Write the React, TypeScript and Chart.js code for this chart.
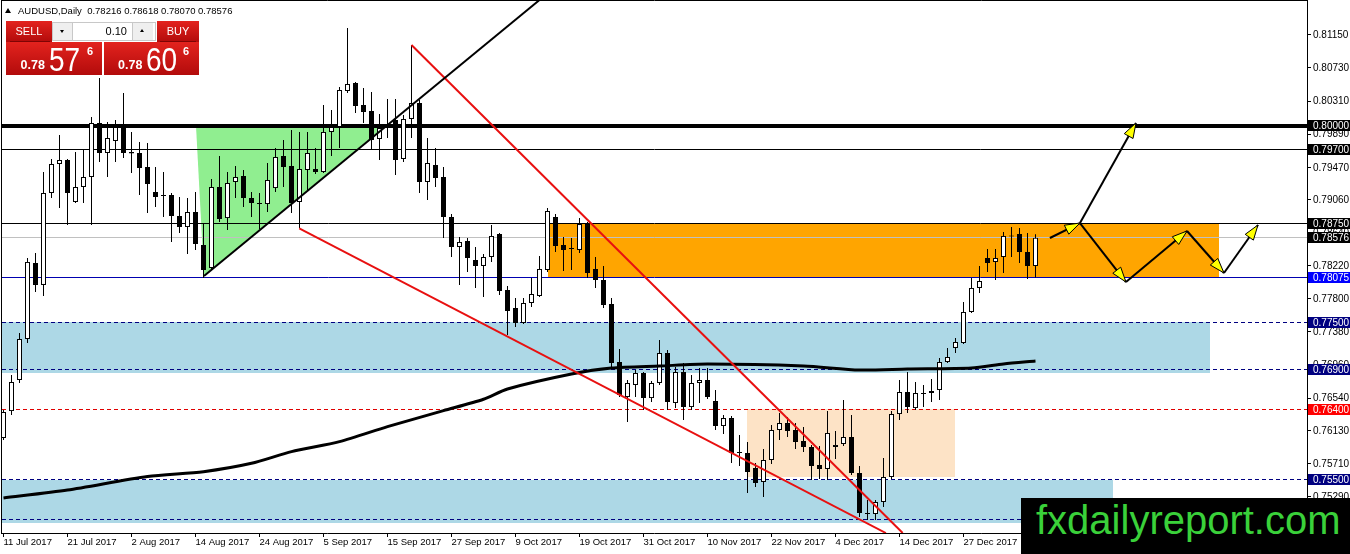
import React, { useEffect, useRef } from 'react';
import { Chart, registerables } from 'chart.js';

Chart.register(...registerables);

const FONT = "'Liberation Sans', Arial, sans-serif";

// axis ranges (bar index / price)
const X_MIN = -0.1875;
const X_MAX = 162.9375;
const Y_MIN = 0.748272;
const Y_MAX = 0.815931;

// time axis
const dateTickIndex = [0, 8, 16, 24, 32, 40, 48, 56, 64, 72, 80, 88, 96, 104, 112, 120, 128];
const dateLabels = ['11 Jul 2017', '21 Jul 2017', '2 Aug 2017', '14 Aug 2017', '24 Aug 2017', '5 Sep 2017', '15 Sep 2017', '27 Sep 2017', '9 Oct 2017', '19 Oct 2017', '31 Oct 2017', '10 Nov 2017', '22 Nov 2017', '4 Dec 2017', '14 Dec 2017', '27 Dec 2017', '8 Jan 2018'];

// price axis tick labels
const priceTicks = [0.8115, 0.8073, 0.8031, 0.7989, 0.7947, 0.7906, 0.7864, 0.7822, 0.778, 0.7738, 0.7696, 0.7654, 0.7613, 0.7571, 0.7529];

// daily candles AUDUSD
const opens = [0.76033, 0.76375, 0.76769, 0.77290, 0.78255, 0.77976, 0.79143, 0.79511, 0.79562, 0.79029, 0.79219, 0.79346, 0.80032, 0.79651, 0.79803, 0.79981, 0.79664, 0.79651, 0.79473, 0.79156, 0.79118, 0.79118, 0.78851, 0.78711, 0.78902, 0.78484, 0.78191, 0.79219, 0.78825, 0.79283, 0.79359, 0.79079, 0.79016, 0.79003, 0.79206, 0.79613, 0.79486, 0.79029, 0.79435, 0.79448, 0.79410, 0.79918, 0.79981, 0.80438, 0.80539, 0.80261, 0.80184, 0.79829, 0.79981, 0.80070, 0.79575, 0.80083, 0.80286, 0.79283, 0.79499, 0.79346, 0.78838, 0.78458, 0.78534, 0.78293, 0.78217, 0.78331, 0.78623, 0.77912, 0.77683, 0.77493, 0.77747, 0.77836, 0.78166, 0.78838, 0.78484, 0.78446, 0.78420, 0.78749, 0.78179, 0.78039, 0.77734, 0.76998, 0.76553, 0.76706, 0.76858, 0.76540, 0.76731, 0.77112, 0.76477, 0.76871, 0.76426, 0.76731, 0.76769, 0.76502, 0.76185, 0.76286, 0.75856, 0.75843, 0.75653, 0.75475, 0.75754, 0.76135, 0.76223, 0.76135, 0.75995, 0.75919, 0.75691, 0.75640, 0.75919, 0.75957, 0.76046, 0.75589, 0.75081, 0.75068, 0.75221, 0.75538, 0.76337, 0.76617, 0.76413, 0.76591, 0.76604, 0.76642, 0.76998, 0.77176, 0.77239, 0.77633, 0.77938, 0.78318, 0.78268, 0.78331, 0.78598, 0.78623, 0.78395, 0.78216];
const highs = [0.76388, 0.76833, 0.77366, 0.78318, 0.78382, 0.79410, 0.79575, 0.79880, 0.79575, 0.79664, 0.79689, 0.80108, 0.80602, 0.80045, 0.80070, 0.80413, 0.79918, 0.79791, 0.79778, 0.79473, 0.79410, 0.79143, 0.79092, 0.79079, 0.79156, 0.78749, 0.79321, 0.79613, 0.79410, 0.79486, 0.79435, 0.79156, 0.79143, 0.79524, 0.79714, 0.79816, 0.79943, 0.79918, 0.79918, 0.79714, 0.80261, 0.80197, 0.80489, 0.81237, 0.80552, 0.80476, 0.80426, 0.80146, 0.80337, 0.80337, 0.80134, 0.81022, 0.80324, 0.79841, 0.79714, 0.79473, 0.78876, 0.78585, 0.78572, 0.78458, 0.78369, 0.78737, 0.78636, 0.77963, 0.77810, 0.77810, 0.78064, 0.78344, 0.78952, 0.78876, 0.78585, 0.78572, 0.78825, 0.78775, 0.78331, 0.78217, 0.77810, 0.77163, 0.76769, 0.76896, 0.76871, 0.76756, 0.77277, 0.77150, 0.76934, 0.76985, 0.76833, 0.76921, 0.76921, 0.76642, 0.76325, 0.76312, 0.76071, 0.75983, 0.75716, 0.75894, 0.76198, 0.76350, 0.76299, 0.76223, 0.76172, 0.75945, 0.75932, 0.76375, 0.76122, 0.76515, 0.76325, 0.75678, 0.75246, 0.75246, 0.75779, 0.76375, 0.76769, 0.76871, 0.76744, 0.76706, 0.76782, 0.77048, 0.77176, 0.77303, 0.77760, 0.78064, 0.78217, 0.78433, 0.78433, 0.78649, 0.78711, 0.78699, 0.78636, 0.78618];
const lows = [0.76008, 0.76325, 0.76731, 0.77239, 0.77887, 0.77836, 0.79079, 0.78952, 0.78737, 0.79016, 0.79016, 0.78737, 0.79537, 0.79346, 0.79537, 0.79587, 0.79397, 0.79118, 0.78889, 0.78965, 0.78838, 0.78522, 0.78636, 0.78369, 0.78420, 0.78064, 0.78166, 0.78775, 0.78674, 0.79079, 0.78965, 0.78838, 0.78687, 0.78902, 0.79156, 0.79219, 0.78889, 0.78699, 0.79181, 0.79384, 0.79397, 0.79613, 0.79714, 0.80413, 0.80159, 0.80032, 0.79689, 0.79562, 0.79841, 0.79372, 0.79537, 0.79841, 0.79143, 0.79054, 0.79219, 0.78572, 0.78331, 0.77976, 0.78141, 0.77938, 0.77823, 0.78268, 0.77849, 0.77341, 0.77442, 0.77480, 0.77696, 0.77823, 0.78141, 0.78395, 0.78153, 0.78166, 0.78382, 0.78064, 0.77938, 0.77683, 0.76921, 0.76553, 0.76236, 0.76553, 0.76388, 0.76490, 0.76706, 0.76388, 0.76413, 0.76261, 0.76388, 0.76477, 0.76528, 0.76135, 0.76084, 0.75716, 0.75678, 0.75335, 0.75411, 0.75284, 0.75703, 0.76008, 0.76046, 0.75894, 0.75856, 0.75500, 0.75513, 0.75500, 0.75767, 0.75932, 0.75564, 0.75030, 0.74992, 0.74992, 0.75157, 0.75513, 0.76261, 0.76350, 0.76388, 0.76426, 0.76490, 0.76515, 0.76985, 0.77112, 0.77226, 0.77620, 0.77874, 0.78141, 0.78039, 0.78128, 0.78331, 0.78255, 0.78051, 0.78070];
const closes = [0.76363, 0.76744, 0.77290, 0.78268, 0.77976, 0.79143, 0.79511, 0.79562, 0.79143, 0.79219, 0.79346, 0.80032, 0.79651, 0.79841, 0.79981, 0.79651, 0.79645, 0.79460, 0.79257, 0.79092, 0.79105, 0.78851, 0.78711, 0.78902, 0.78496, 0.78166, 0.79219, 0.78813, 0.79270, 0.79346, 0.79079, 0.79016, 0.79003, 0.79308, 0.79600, 0.79473, 0.79016, 0.79448, 0.79651, 0.79410, 0.79918, 0.79981, 0.80451, 0.80527, 0.80248, 0.80172, 0.79816, 0.79968, 0.80006, 0.79562, 0.80083, 0.80286, 0.79283, 0.79524, 0.79333, 0.78838, 0.78458, 0.78522, 0.78318, 0.78217, 0.78331, 0.78598, 0.77899, 0.77645, 0.77493, 0.77747, 0.77861, 0.78179, 0.78915, 0.78471, 0.78420, 0.78433, 0.78749, 0.78128, 0.78039, 0.77722, 0.76985, 0.76579, 0.76731, 0.76858, 0.76540, 0.76731, 0.77112, 0.76490, 0.76871, 0.76426, 0.76731, 0.76769, 0.76553, 0.76185, 0.76286, 0.75843, 0.75843, 0.75602, 0.75462, 0.75754, 0.76135, 0.76223, 0.76122, 0.75983, 0.75919, 0.75678, 0.75640, 0.76097, 0.75945, 0.76046, 0.75589, 0.75081, 0.75068, 0.75221, 0.75538, 0.76337, 0.76617, 0.76426, 0.76604, 0.76604, 0.76629, 0.76998, 0.77061, 0.77252, 0.77633, 0.77938, 0.78026, 0.78255, 0.78318, 0.78598, 0.78592, 0.78395, 0.78216, 0.78576];

// moving average (sampled at bar indices)
const maIndex = [0, 8, 18, 25, 31, 36, 42, 48, 55, 60, 63, 71, 76, 82, 88, 100, 107, 113, 121, 125, 129];
const maValues = [0.75272, 0.75373, 0.75545, 0.75606, 0.75712, 0.75860, 0.75987, 0.76177, 0.76380, 0.76525, 0.76655, 0.76845, 0.76921, 0.76947, 0.76972, 0.76947, 0.76896, 0.76909, 0.76921, 0.76972, 0.77010];

// horizontal levels
const levelValues = [0.8, 0.797, 0.7875, 0.78576, 0.78075, 0.775, 0.769, 0.764, 0.755, 0.75];
const levelColors = ['#000000', '#000000', '#000000', '#c0c0c0', '#0000b0', '#000080', '#000080', '#e00000', '#000080', '#000080'];
const levelWidths = [4, 1, 1, 1, 1, 1, 1, 1, 1, 1];
const levelDashed = [false, false, false, false, false, true, true, true, true, true];
const levelLabelBg = ['#000000', '#000000', '#000000', '#000000', '#0000ff', '#000080', '#000080', '#ff0000', '#000080', '#000080'];

// rectangles
const zoneX0 = [X_MIN, X_MIN, 68.06, 92.9];
const zoneX1 = [138.7, 150.8, 151.9, 118.9];
const zoneTop = [0.755, 0.775, 0.7875, 0.764];
const zoneBottom = [0.74955, 0.76858, 0.78075, 0.7554];
const zoneColors = ['#add8e6', '#add8e6', '#ffa500', '#fde3c6'];

// green triangle
const triX = [24.06, 47.8, 25.06];
const triY = [0.8, 0.8, 0.7809];

// trend lines
const trendX0 = [25.06, 51.0, 36.97];
const trendY0 = [0.7809, 0.81022, 0.78693];
const trendX1 = [67.0, 112.4, 110.3];
const trendY1 = [0.81593, 0.74827, 0.74827];
const trendColors = ['#000000', '#e81010', '#e81010'];
const trendWidths = [2, 2, 2];

// projected path arrows
const arrowX0 = [130.8, 134.56, 134.56, 140.31, 147.94, 152.56];
const arrowY0 = [0.78572, 0.78762, 0.78762, 0.78013, 0.78661, 0.78128];
const arrowX1 = [134.56, 141.56, 140.31, 147.94, 152.56, 156.81];
const arrowY1 = [0.78762, 0.80032, 0.78013, 0.78661, 0.78128, 0.78737];

const decorPlugin = {
  id: 'mt4decor',
  beforeDatasetsDraw(chart: any) {
    const { ctx, chartArea: a, scales } = chart;
    const x = scales.x, y = scales.y;
    ctx.save();
    ctx.beginPath();
    ctx.rect(a.left, a.top, a.right - a.left, a.bottom - a.top);
    ctx.clip();
    for (let i = 0; i < zoneColors.length; i++) {
      const x0 = Math.round(x.getPixelForValue(zoneX0[i]));
      const x1 = Math.round(x.getPixelForValue(zoneX1[i]));
      const y0 = Math.round(y.getPixelForValue(zoneTop[i]));
      const y1 = Math.round(y.getPixelForValue(zoneBottom[i]));
      ctx.fillStyle = zoneColors[i];
      ctx.fillRect(x0, y0, x1 - x0, y1 - y0);
    }
    ctx.beginPath();
    triX.forEach((v, i) => {
      const px = x.getPixelForValue(v), py = y.getPixelForValue(triY[i]);
      if (i === 0) ctx.moveTo(px, py); else ctx.lineTo(px, py);
    });
    ctx.closePath();
    ctx.fillStyle = '#90ee90';
    ctx.fill();
    for (let i = 0; i < levelValues.length; i++) {
      const py = y.getPixelForValue(levelValues[i]);
      const w = levelWidths[i];
      const yy = w % 2 ? Math.floor(py) + 0.5 : Math.round(py);
      ctx.strokeStyle = levelColors[i];
      ctx.lineWidth = w;
      ctx.setLineDash(levelDashed[i] ? [4, 3] : []);
      ctx.beginPath();
      ctx.moveTo(a.left, yy);
      ctx.lineTo(a.right, yy);
      ctx.stroke();
    }
    ctx.restore();
  },
  afterDatasetsDraw(chart: any) {
    const { ctx, chartArea: a, scales } = chart;
    const x = scales.x, y = scales.y;
    ctx.save();
    ctx.beginPath();
    ctx.rect(a.left, a.top, a.right - a.left, a.bottom - a.top);
    ctx.clip();
    for (let i = 0; i < arrowX0.length; i++) {
      const x0 = x.getPixelForValue(arrowX0[i]), y0 = y.getPixelForValue(arrowY0[i]);
      const x1 = x.getPixelForValue(arrowX1[i]), y1 = y.getPixelForValue(arrowY1[i]);
      const ang = Math.atan2(y1 - y0, x1 - x0);
      const L = 15, W = 5;
      const c = Math.cos(ang), s = Math.sin(ang);
      const bx = x1 - L * c, by = y1 - L * s;
      ctx.beginPath();
      ctx.moveTo(x1, y1);
      ctx.lineTo(bx - W * s, by + W * c);
      ctx.lineTo(bx + W * s, by - W * c);
      ctx.closePath();
      ctx.fillStyle = '#ffff00';
      ctx.fill();
      ctx.strokeStyle = '#000000';
      ctx.lineWidth = 1;
      ctx.stroke();
    }
    ctx.restore();
  },
  afterDraw(chart: any) {
    const { ctx, chartArea: a, scales } = chart;
    const y = scales.y;
    ctx.save();
    ctx.strokeStyle = '#000000';
    ctx.lineWidth = 1;
    ctx.beginPath();
    ctx.moveTo(a.left - 0.5, 0);
    ctx.lineTo(a.left - 0.5, a.bottom + 1);
    ctx.moveTo(a.right + 0.5, 0);
    ctx.lineTo(a.right + 0.5, a.bottom + 1);
    ctx.moveTo(a.left - 1, 0.5);
    ctx.lineTo(a.right + 1, 0.5);
    ctx.moveTo(a.left - 1, a.bottom + 0.5);
    ctx.lineTo(a.right + 1, a.bottom + 0.5);
    ctx.stroke();
    ctx.font = `10px ${FONT}`;
    ctx.textBaseline = 'middle';
    ctx.textAlign = 'left';
    ctx.fillStyle = '#000000';
    const lx = a.right + 6;
    priceTicks.forEach((v) => {
      const py = y.getPixelForValue(v);
      ctx.fillRect(a.right, Math.floor(py), 4, 1);
      ctx.fillText(v.toFixed(5), lx, py + 0.5);
    });
    levelValues.forEach((v, i) => {
      const py = y.getPixelForValue(v);
      const top = Math.round(py - 5.5);
      ctx.fillStyle = levelLabelBg[i];
      ctx.fillRect(a.right + 1, top, 43, 11);
      ctx.fillStyle = '#ffffff';
      ctx.fillText(v.toFixed(5), lx, top + 6);
    });
    ctx.restore();
  },
};

function T(p: { x: number; b: number; s: number; text: string; bold?: boolean; color?: string; sx?: number; w?: number; align?: string }) {
  return (
    <div
      style={{
        position: 'absolute',
        left: p.x,
        top: p.b - 0.8465 * p.s,
        width: p.w,
        textAlign: (p.align as any) || 'left',
        fontFamily: FONT,
        fontSize: p.s,
        lineHeight: `${p.s}px`,
        fontWeight: p.bold ? 700 : 400,
        color: p.color || '#000',
        whiteSpace: 'pre',
        transform: p.sx ? `scaleX(${p.sx})` : undefined,
        transformOrigin: 'left top',
      }}
    >
      {p.text}
    </div>
  );
}

const redGrad = 'linear-gradient(#e3231e, #b20b0b)';

export default function App() {
  const ref = useRef<HTMLCanvasElement>(null);

  useEffect(() => {
    if (!ref.current) return;
    const wickData = opens.map((_, i) => ({ x: i, y: [lows[i], highs[i]] }));
    const bodyData = opens.map((o, i) => ({ x: i, y: [o, closes[i]] }));
    const bodyColors = opens.map((o, i) => (closes[i] >= o ? '#ffffff' : '#000000'));

    const datasets: any[] = [
      {
        type: 'bar', label: 'wicks', data: wickData, backgroundColor: '#000000', borderWidth: 0,
        barThickness: 1, grouped: false, inflateAmount: 0, order: 10,
      },
      {
        type: 'bar', label: 'bodies', data: bodyData, backgroundColor: bodyColors, borderColor: '#000000',
        borderWidth: 1, borderSkipped: false, barThickness: 5, grouped: false, inflateAmount: 0, minBarLength: 1, order: 9,
      },
      {
        type: 'line', label: 'MA', data: maIndex.map((v, i) => ({ x: v, y: maValues[i] })),
        borderColor: '#000000', borderWidth: 3, pointRadius: 0, tension: 0.25, fill: false, order: 8,
      },
    ];
    trendX0.forEach((_, i) => {
      datasets.push({
        type: 'line', label: 'trend' + i,
        data: [{ x: trendX0[i], y: trendY0[i] }, { x: trendX1[i], y: trendY1[i] }],
        borderColor: trendColors[i], borderWidth: trendWidths[i], pointRadius: 0, fill: false, order: 5,
      });
    });
    arrowX0.forEach((_, i) => {
      datasets.push({
        type: 'line', label: 'arrow' + i,
        data: [{ x: arrowX0[i], y: arrowY0[i] }, { x: arrowX1[i], y: arrowY1[i] }],
        borderColor: '#000000', borderWidth: 2, pointRadius: 0, fill: false, order: 2,
      });
    });

    const chart = new Chart(ref.current, {
      type: 'bar',
      data: { datasets },
      options: {
        responsive: false,
        animation: false,
        devicePixelRatio: 1,
        events: [],
        layout: { padding: { left: 2, top: 0, right: 0, bottom: 0 } },
        plugins: { legend: { display: false }, tooltip: { enabled: false } },
        scales: {
          x: {
            type: 'linear', min: X_MIN, max: X_MAX, offset: false,
            afterBuildTicks: (s: any) => { s.ticks = dateTickIndex.map((v) => ({ value: v })); },
            afterFit: (s: any) => { s.height = 21; },
            ticks: {
              autoSkip: false, maxRotation: 0, minRotation: 0, align: 'start', padding: 0,
              color: '#000000', font: { family: FONT, size: 9.5 },
              callback: (_v: any, i: number) => dateLabels[i],
            },
            grid: { display: true, drawOnChartArea: false, drawTicks: true, tickLength: 4, color: '#000000', offset: false },
            border: { display: false },
          },
          y: {
            type: 'linear', position: 'right', min: Y_MIN, max: Y_MAX, beginAtZero: false,
            ticks: { display: false },
            grid: { display: false },
            border: { display: false },
            afterFit: (s: any) => { s.width = 43; },
          },
        },
      } as any,
      plugins: [decorPlugin],
    });
    return () => chart.destroy();
  }, []);

  return (
    <div style={{ position: 'fixed', left: 0, top: 0, width: 1350, height: 554, background: '#ffffff', overflow: 'hidden' }}>
      <canvas ref={ref} width={1350} height={554} style={{ position: 'absolute', left: 0, top: 0, width: 1350, height: 554 }} />
      {/* header */}
      <div style={{ position: 'absolute', left: 5, top: 8, width: 0, height: 0, borderLeft: '3px solid transparent', borderRight: '3px solid transparent', borderBottom: '5px solid #000' }} />
      <T x={18} b={14.3} s={9.5} text="AUDUSD,Daily  0.78216 0.78618 0.78070 0.78576" />
      {/* one click trading panel */}
      <div style={{ position: 'absolute', left: 6, top: 21, width: 46, height: 21, background: redGrad }} />
      <div style={{ position: 'absolute', left: 10, top: 41, width: 40, height: 1, background: 'rgba(90,0,0,0.6)' }} />
      <T x={6} w={46} align="center" b={35} s={11} color="#fff" text="SELL" />
      <div style={{ position: 'absolute', left: 6, top: 42, width: 96, height: 33, background: redGrad }} />
      <T x={20.5} b={70} s={12.5} bold color="#fff" text="0.78" />
      <T x={49} b={70.5} s={33} sx={0.85} color="#fff" text="57" />
      <T x={87} b={55} s={11} bold color="#fff" text="6" />

      <div style={{ position: 'absolute', left: 52, top: 22, width: 102, height: 17, background: '#fff', border: '1px solid #c8c8c8' }} />
      <div style={{ position: 'absolute', left: 53, top: 23, width: 19, height: 17, background: '#efefef', borderRight: '1px solid #c8c8c8' }} />
      <div style={{ position: 'absolute', left: 60, top: 30, width: 0, height: 0, borderLeft: '2.5px solid transparent', borderRight: '2.5px solid transparent', borderTop: '3px solid #000' }} />
      <div style={{ position: 'absolute', left: 132, top: 23, width: 20, height: 17, background: '#efefef', borderLeft: '1px solid #c8c8c8' }} />
      <div style={{ position: 'absolute', left: 140, top: 29, width: 0, height: 0, borderLeft: '2.5px solid transparent', borderRight: '2.5px solid transparent', borderBottom: '3px solid #000' }} />
      <T x={73} w={54} align="right" b={35} s={11} text="0.10" />

      <div style={{ position: 'absolute', left: 157, top: 21, width: 42, height: 21, background: redGrad }} />
      <div style={{ position: 'absolute', left: 160, top: 41, width: 36, height: 1, background: 'rgba(90,0,0,0.6)' }} />
      <T x={157} w={42} align="center" b={35} s={11} color="#fff" text="BUY" />
      <div style={{ position: 'absolute', left: 104, top: 42, width: 95, height: 33, background: redGrad }} />
      <T x={118} b={70} s={12.5} bold color="#fff" text="0.78" />
      <T x={146} b={70.5} s={33} sx={0.85} color="#fff" text="60" />
      <T x={183} b={55} s={11} bold color="#fff" text="6" />
      {/* watermark */}
      <div style={{ position: 'absolute', left: 1021, top: 498, width: 329, height: 56, background: '#000' }} />
      <T x={1036} b={534} s={40} color="#3ad13a" text="fxdailyreport.com" />
    </div>
  );
}
